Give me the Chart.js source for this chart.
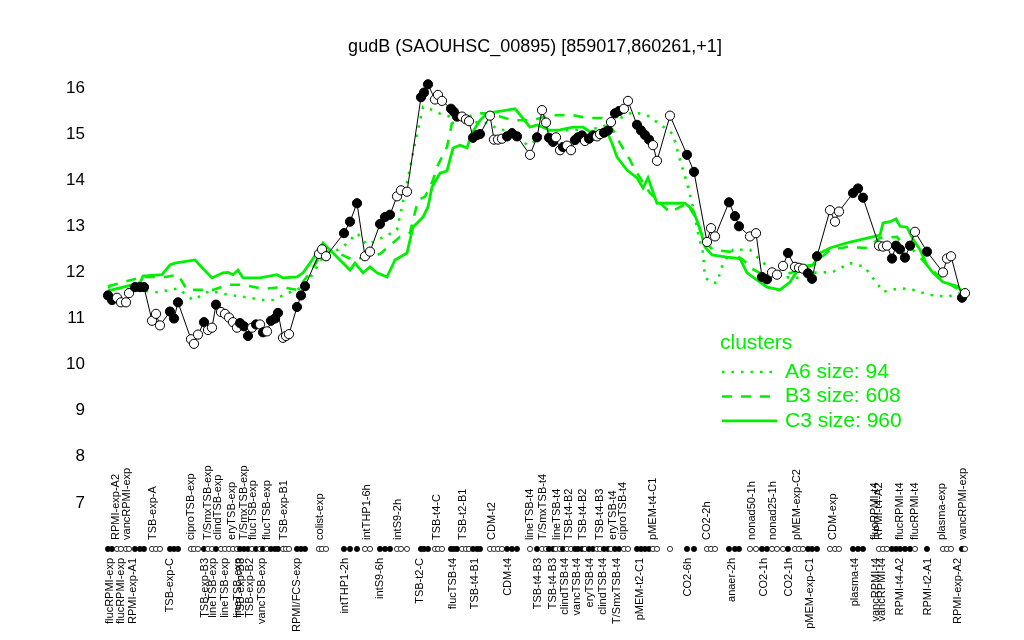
<!DOCTYPE html>
<html><head><meta charset="utf-8">
<script src="https://cdn.jsdelivr.net/npm/chart.js@4/dist/chart.umd.min.js"></script>
<style>html,body{margin:0;padding:0;background:#fff}</style>
</head><body>
<canvas id="c" width="1024" height="640" style="width:1024px;height:640px;display:block"></canvas>
<script>
const chartTitle = "gudB (SAOUHSC_00895) [859017,860261,+1]";

// sample order positions, expression values, filled (1) / open (0) markers
const positions = [1.6,2.4,3.4,4.2,5.2,5.8,7.0,8.0,8.8,
10.4,11.2,12.0,14.0,14.8,15.6,18.2,18.8,19.6,
20.8,21.6,22.4,23.2,24.2,25.0,25.8,26.6,27.4,28.0,28.8,29.6,30.4,31.2,32.0,32.6,33.4,34.2,35.0,35.6,36.6,37.2,37.8,
39.4,40.2,41.0,43.8,44.4,45.2,48.8,50.0,51.4,53.0,54.0,56.0,57.0,58.0,59.4,60.2,61.4,
64.2,64.8,65.6,67.0,67.6,68.4,70.2,70.8,71.4,72.4,73.2,73.8,74.6,75.4,76.0,
78.0,78.8,79.6,80.4,81.4,82.4,83.4,
86.0,87.4,88.4,89.2,89.8,90.6,91.2,92.0,92.6,93.4,94.2,95.0,95.6,96.4,97.0,97.8,98.6,99.4,100.0,100.8,101.6,102.2,103.0,103.8,104.8,105.6,
107.4,108.2,109.0,109.8,110.6,111.4,114.0,117.4,118.8,121.4,122.2,123.0,125.8,127.0,127.8,
130.0,131.2,132.4,133.4,134.4,135.4,136.6,137.6,139.0,139.8,140.6,141.6,142.4,143.4,
146.0,147.0,147.8,150.6,151.6,152.6,155.8,156.6,157.4,158.4,159.2,160.0,161.0,162.0,163.0,
165.4,168.6,169.4,170.2,172.4,173.0];
const expression = [11.5,11.4,11.45,11.35,11.35,11.55,11.68,11.68,11.68,
10.95,11.1,10.85,11.15,11.0,11.35,10.55,10.45,10.65,
10.92,10.75,10.8,11.3,11.14,11.1,11.02,10.92,10.8,10.9,10.83,10.62,10.8,10.87,10.87,10.7,10.72,10.95,11.0,11.12,10.58,10.62,10.66,
11.25,11.5,11.7,12.4,12.5,12.35,12.85,13.1,13.5,12.35,12.45,13.05,13.2,13.25,13.65,13.78,13.75,
15.8,15.9,16.08,15.75,15.85,15.72,15.55,15.48,15.38,15.38,15.32,15.28,14.92,14.98,15.0,
15.4,14.88,14.88,14.9,14.95,15.02,14.95,
14.55,14.93,15.52,15.25,14.92,14.83,14.93,14.65,14.72,14.75,14.65,14.87,14.93,14.97,14.85,14.9,14.97,14.95,15.0,15.03,15.08,15.26,15.45,15.5,15.55,15.72,
15.2,15.08,14.98,14.88,14.76,14.42,15.4,14.55,14.18,12.66,12.96,12.78,13.52,13.22,13.0,
12.78,12.85,11.9,11.85,12.0,11.95,12.14,12.42,12.12,12.1,12.08,11.98,11.86,12.35,
13.35,13.1,13.32,13.72,13.82,13.62,12.58,12.56,12.58,12.3,12.58,12.5,12.32,12.58,12.88,
12.45,12.0,12.3,12.35,11.45,11.55];
const filled = [1,1,0,0,0,0,1,1,1,
0,0,0,1,1,1,0,0,0,
1,0,0,1,0,0,0,0,0,1,1,1,0,1,0,1,0,1,1,1,0,0,0,
1,1,1,0,0,0,1,1,1,0,0,1,1,1,0,0,0,
1,1,1,0,0,0,1,1,1,0,0,0,1,1,1,
0,0,0,0,1,1,1,
0,1,0,0,1,1,0,0,1,0,0,1,1,1,0,1,1,0,0,1,1,0,1,1,0,0,
1,1,1,1,0,0,0,1,1,0,0,0,1,1,1,
0,0,1,1,0,0,0,1,0,0,0,1,1,1,
0,0,0,1,1,1,0,0,0,1,1,1,1,1,0,
1,0,0,0,1,0];

// cluster mean profiles
const clusterA6Pos = [1.6,11.4,15.6,18.6,22,25.4,28.6,32.6,34.6,38,41,44.6,48.6,51.4,53.4,57.4,59.4,61.4,63,64.6,66.6,68.6,71.4,74.6,77.4,80,82.6,85.4,87.4,89,94.6,100,106.6,109.4,111.4,114.6,116,117.4,118.6,119.6,120.6,121,122,123.4,124.6,126.6,130,132,136,140,142.6,146.6,150,153,154,155.4,156.6,160,162.6,166,169.4,172];
const clusterA6Val = [11.68,11.57,11.65,11.4,11.6,11.52,11.47,11.4,11.4,11.57,11.7,12.33,12.55,12.85,12.6,12.8,12.92,13.94,14.8,15.59,15.52,15.41,15.35,15.26,15.24,15.09,15.09,14.76,14.87,15.07,15.09,15.13,15.48,15.41,15.26,15.0,14.44,13.94,13.42,12.85,12.42,11.9,11.79,11.77,12.2,12.49,12.49,12.27,11.9,11.88,11.99,12.01,12.2,12.12,11.95,11.77,11.58,11.66,11.62,11.51,11.47,11.55];
const clusterB3Pos = [1.6,8.6,13,15.6,17.4,22.6,25.6,28.6,32.6,36.4,39.4,42,44.6,47,50.6,56,60,62,63.6,65,66.6,67.4,69.4,70.4,72,75.4,77.4,80,82.6,86.6,90,94.6,97.4,100.4,102.6,104,106,107,110,114,117.4,119.4,120.6,122.6,126.6,129.4,130,132.6,136,140,142.6,146,149.4,153.4,156,159.4,160.6,162.6,165.4,168.6,172.6];
const clusterB3Val = [11.7,11.9,11.9,11.95,11.62,11.62,11.73,11.73,11.64,11.68,11.62,12.0,12.45,12.45,12.27,12.4,12.77,12.86,13.57,13.64,14.0,14.29,14.72,15.24,15.3,15.45,15.45,15.38,15.3,15.3,15.41,15.41,15.35,15.35,15.09,14.8,14.44,14.22,13.72,13.3,13.5,13.14,12.7,12.49,12.44,12.2,12.1,11.95,11.92,12.05,12.16,12.49,12.55,12.53,12.75,12.77,12.6,12.49,12.16,11.83,11.58];
const clusterC3Pos = [1.6,8,8.6,12.4,14,15,19,20,22.4,24.6,25.6,26.6,27.6,28.6,32,35.4,36.6,39.4,40.6,42,44.6,46.6,50,51,52.6,54,55.4,57.4,59,61.4,62.6,64.6,65.6,66.4,68,69.4,70.6,72,73.4,74.4,76,77.4,81.4,83,84,86,87.4,88.6,90,92,94.6,96.6,98,101.4,102.4,103.4,105.4,107.4,108.6,109.6,111.4,117,118.6,120,121,122.4,125.4,128,129.4,132,133.4,136,138,140,142.6,144,146,149.4,152.6,156,156.6,158,159.2,160,161.4,162.6,164,165.4,166.6,168.6,171.4,172.6];
const clusterC3Val = [11.6,11.77,11.92,11.95,12.16,12.2,12.27,12.15,11.88,11.99,12.0,11.95,12.05,11.88,11.88,11.95,11.88,11.9,11.99,12.2,12.64,12.42,12.05,12.2,11.99,12.12,11.99,11.9,12.27,12.42,12.98,13.2,13.42,13.85,14.15,14.2,14.7,14.76,14.7,15.02,15.3,15.45,15.52,15.55,15.42,15.15,15.2,15.15,15.08,15.09,15.15,15.15,15.05,15.05,14.8,14.5,14.22,14.05,13.83,14.05,13.5,13.5,13.35,12.95,12.55,12.38,12.33,12.3,11.99,11.79,11.68,11.62,11.79,12.12,12.16,12.42,12.53,12.64,12.72,12.81,13.07,13.1,13.16,13.0,12.98,12.72,12.49,12.16,11.99,11.79,11.7,11.58];

const clusterNames = ["A6 size: 94", "B3 size: 608", "C3 size: 960"];
const yTicks = [7,8,9,10,11,12,13,14,15,16];
const markerRowValue = 6.0;

// sample labels along the bottom: [position, text]
const labelsBelow = [[2.0,"flucRPMI-exp"],[4.2,"flucRPMI-exp"],[6.6,"RPMI-exp-A1"],[14.0,"TSB-exp-C"],[21.0,"TSB-exp-B3"],[22.6,"lineTSB-exp"],[25.0,"lineTSB-exp"],[27.6,"lineTSB-exp"],[28.2,"TSB-exp-B3"],[30.0,"TSB-exp-B2"],[32.4,"vancTSB-exp"],[39.4,"RPMI/FCS-exp"],[49.0,"intTHP1-2h"],[56.0,"intS9-6h"],[64.0,"TSB-t2-C"],[70.6,"flucTSB-t4"],[75.0,"TSB-t4-B1"],[81.6,"CDM-t4"],[87.6,"TSB-t4-B3"],[90.6,"TSB-t4-B3"],[93.0,"clindTSB-t4"],[95.4,"vancTSB-t4"],[98.0,"eryTSB-t4"],[100.6,"clindTSB-t4"],[103.4,"T/SmxTSB-t4"],[108.0,"pMEM-t2-C1"],[117.6,"CO2-6h"],[126.4,"anaer-2h"],[132.8,"CO2-1h"],[137.8,"CO2-1h"],[142.0,"pMEM-exp-C1"],[151.0,"plasma-t4"],[155.2,"vancRPMI-t4"],[156.4,"vancRPMI-t4"],[160.0,"RPMI-t4-A2"],[165.6,"RPMI-t2-A1"],[171.6,"RPMI-exp-A2"]];
const labelsAbove = [[3.2,"RPMI-exp-A2"],[5.3,"vancRPMI-exp"],[10.6,"TSB-exp-A"],[18.2,"ciproTSB-exp"],[21.6,"T/SmxTSB-exp"],[23.6,"clindTSB-exp"],[26.4,"eryTSB-exp"],[28.8,"T/SmxTSB-exp"],[30.6,"flucTSB-exp"],[33.4,"flucTSB-exp"],[36.8,"TSB-exp-B1"],[44.0,"colist-exp"],[53.4,"intTHP1-6h"],[59.6,"intS9-2h"],[67.4,"TSB-t4-C"],[72.6,"TSB-t2-B1"],[78.4,"CDM-t2"],[86.0,"lineTSB-t4"],[88.6,"T/SmxTSB-t4"],[91.4,"lineTSB-t4"],[93.8,"TSB-t4-B2"],[96.6,"TSB-t4-B2"],[100.0,"TSB-t4-B3"],[102.6,"eryTSB-t4"],[104.6,"ciproTSB-t4"],[110.6,"pMEM-t4-C1"],[121.4,"CO2-2h"],[130.4,"nonad50-1h"],[134.6,"nonad25-1h"],[139.4,"pMEM-exp-C2"],[146.6,"CDM-exp"],[155.0,"flucRPMI-t4"],[155.8,"RPMI-t4-A2"],[160.0,"flucRPMI-t4"],[163.0,"flucRPMI-t4"],[168.4,"plasma-exp"],[172.6,"vancRPMI-exp"]];

const GREEN = '#00ee00';
const FONT = '"Liberation Sans", Arial, Helvetica, sans-serif';

const pts = positions.map((x,i)=>({x, y: expression[i]}));
const rowPts = positions.map(x=>({x, y: markerRowValue}));
const fills = filled.map(f=> f ? '#000' : '#fff');
const mk = (p,v)=>p.map((x,i)=>({x,y:v[i]}));

const styleA = {dash:[2.5,7], width:2.6};
const styleB = {dash:[10,9], width:2.6};
const styleC = {dash:[], width:2.8};

const decorPlugin = {
  id: 'decor',
  afterDraw(chart) {
    const ctx = chart.ctx, xs = chart.scales.x, ys = chart.scales.y;
    const rowY = ys.getPixelForValue(markerRowValue);
    ctx.save();
    ctx.fillStyle = '#000';
    ctx.font = '11px ' + FONT;
    ctx.textBaseline = 'middle';
    for (const [p, t] of labelsAbove) {
      const x = xs.getPixelForValue(p);
      ctx.save(); ctx.translate(x, rowY - 9); ctx.rotate(-Math.PI/2);
      ctx.textAlign = 'left'; ctx.fillText(t, 0, 0); ctx.restore();
    }
    for (const [p, t] of labelsBelow) {
      const x = xs.getPixelForValue(p);
      ctx.save(); ctx.translate(x, rowY + 9); ctx.rotate(-Math.PI/2);
      ctx.textAlign = 'right'; ctx.fillText(t, 0, 0); ctx.restore();
    }
    // legend
    const lx = xs.getPixelForValue(124.4), ly = ys.getPixelForValue(9.84);
    ctx.fillStyle = GREEN;
    ctx.font = '21px ' + FONT;
    ctx.textAlign = 'left';
    ctx.fillText('clusters', lx - 2, ly - 29);
    const styles = [styleA, styleB, styleC];
    clusterNames.forEach((n, i) => {
      const y = ly + i * 24.5;
      ctx.strokeStyle = GREEN; ctx.lineWidth = styles[i].width;
      ctx.setLineDash(styles[i].dash); ctx.lineCap = 'butt';
      ctx.beginPath(); ctx.moveTo(lx, y); ctx.lineTo(lx + 55, y); ctx.stroke();
      ctx.setLineDash([]);
      ctx.fillText(n, lx + 63, y);
    });
    ctx.restore();
  }
};

new Chart(document.getElementById('c'), {
  type: 'scatter',
  data: {
    datasets: [
      {data: pts, showLine: true, borderColor: '#000', borderWidth: 1,
       pointRadius: 4.6, pointBackgroundColor: fills, pointBorderColor: '#000', pointBorderWidth: 1},
      {data: rowPts, showLine: false, pointRadius: 2.6, pointBackgroundColor: fills,
       pointBorderColor: '#000', pointBorderWidth: 0.8},
      {data: mk(clusterA6Pos, clusterA6Val), showLine: true, borderColor: GREEN, borderWidth: styleA.width,
       borderDash: styleA.dash, pointRadius: 0, borderCapStyle: 'butt'},
      {data: mk(clusterB3Pos, clusterB3Val), showLine: true, borderColor: GREEN, borderWidth: styleB.width,
       borderDash: styleB.dash, pointRadius: 0},
      {data: mk(clusterC3Pos, clusterC3Val), showLine: true, borderColor: GREEN, borderWidth: styleC.width,
       pointRadius: 0}
    ]
  },
  options: {
    responsive: false, animation: false, devicePixelRatio: 1,
    layout: {padding: {left: 0, right: 44, top: 0, bottom: 68}},
    plugins: {
      legend: {display: false}, tooltip: {enabled: false},
      title: {display: true, text: chartTitle, color: '#000', fullSize: false,
        font: {family: FONT, size: 18, weight: 'normal'}, padding: {top: 36, bottom: 2}}
    },
    scales: {
      x: {type: 'linear', min: -2, max: 176, display: false},
      y: {min: 5.5, max: 16.616,
        afterBuildTicks: s => { s.ticks = yTicks.map(v => ({value: v})); },
        afterFit: s => { s.width = 90; },
        grid: {display: false, drawTicks: false}, border: {display: false},
        ticks: {color: '#000', padding: 5, font: {family: FONT, size: 17}}}
    }
  },
  plugins: [decorPlugin]
});
</script>
</body></html>
